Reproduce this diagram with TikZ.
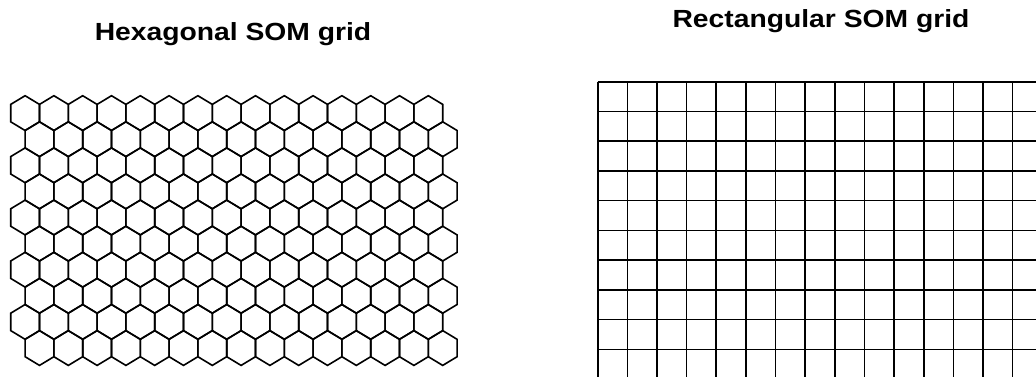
\documentclass[tikz,border=0pt]{standalone}
\usepackage{fontspec}
\setmainfont{Liberation Sans}
\usetikzlibrary{positioning}
\tikzset{
  hexcell/.style={draw=black, line width=0.8pt, line join=miter},
  gridline/.style={draw=black, line width=0.8pt},
  title/.style={font=\bfseries\fontsize{12.4}{14}\selectfont, anchor=base, inner sep=0pt},
}

\begin{document}
\begin{tikzpicture}[x=0.5pt, y=-0.5pt]
    \useasboundingbox (0,0) rectangle (1036,376);
    \clip (0,0) rectangle (1036,376);
    % titles
    \node[title] (hextitle) at (233,40.7) {\scalebox{1.14}[1]{Hexagonal SOM grid}};
    \node[title] (recttitle) at (821,27.3) {\scalebox{1.14}[1]{Rectangular SOM grid}};
    % hexagonal grid: 10 rows of 15 cells, odd rows shifted right
    \foreach \k in {0,...,9}
      \foreach \j in {0,...,14}
      { \pgfmathsetmacro\cx{25.1+28.8*\j+14.4*mod(\k,2)}
        \pgfmathsetmacro\cy{113.1+26.1*\k}
        \draw[hexcell, shift={(\cx,\cy)}] (0,-17.4) -- (14.4,-8.7) -- (14.4,8.7) -- (0,17.4) -- (-14.4,8.7) -- (-14.4,-8.7) -- cycle; }
    % rectangular grid, runs off the right and bottom edge
    \foreach \i in {0,...,15}
      { \draw[gridline] ({597.7+29.64*\i},81.7) -- ({597.7+29.64*\i},380); }
    \foreach \i in {0,...,10}
      { \draw[gridline] (597.7,{81.7+29.74*\i}) -- (1045,{81.7+29.74*\i}); }
\end{tikzpicture}
\end{document}
